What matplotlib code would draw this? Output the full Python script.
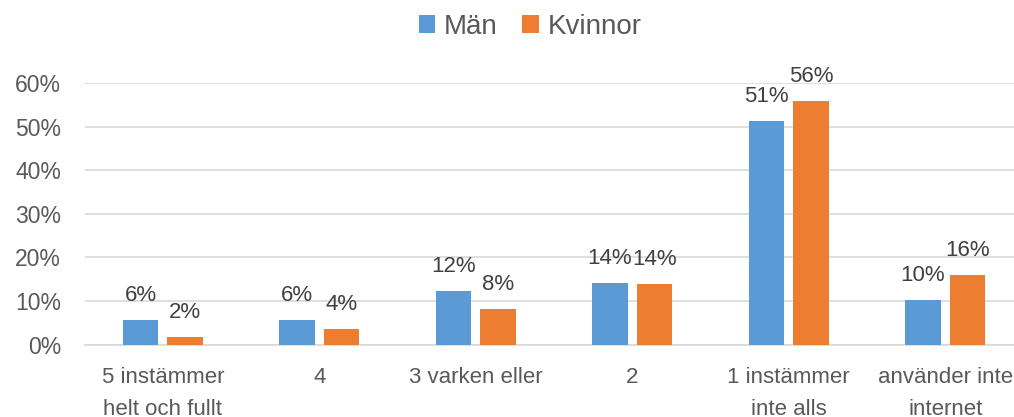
import matplotlib
matplotlib.use("Agg")
import matplotlib.pyplot as plt
import numpy as np

categories = ["5 instämmer\nhelt och fullt", "4", "3 varken eller", "2",
              "1 instämmer\ninte alls", "använder inte\ninternet"]
man = [0.057, 0.057, 0.123, 0.141, 0.513, 0.102]
kvinnor = [0.018, 0.035, 0.081, 0.140, 0.560, 0.159]
series_names = ["Män", "Kvinnor"]
yticks = [0, 0.1, 0.2, 0.3, 0.4, 0.5, 0.6]

plt.rcParams['font.family'] = ['Liberation Sans', 'DejaVu Sans']

blue = "#5B9BD5"
orange = "#ED7D31"
textcol = "#595959"

fig = plt.figure(figsize=(10.14, 4.17), dpi=100)
ax = fig.add_axes([84.5 / 1014, 72.5 / 417, 939 / 1014, 261.2 / 417])

x = np.arange(len(categories))
w = 0.224
off = 0.142
b1 = ax.bar(x - off, man, w, color=blue, label=series_names[0], zorder=3)
b2 = ax.bar(x + off, kvinnor, w, color=orange, label=series_names[1], zorder=3)

for bars in (b1, b2):
    for rect in bars:
        v = rect.get_height()
        ax.annotate(f"{round(v * 100):d}%",
                    (rect.get_x() + rect.get_width() / 2, v),
                    xytext=(0, 10), textcoords="offset points",
                    ha="center", va="bottom", fontsize=16, color="#404040")

ax.set_xlim(-0.5, len(categories) - 0.5)
ax.set_ylim(0, 0.6)
ax.set_yticks(yticks)
ax.set_yticklabels([f"{int(round(t * 100))}%" for t in yticks])
ax.set_xticks(x)
ax.set_xticklabels(categories, linespacing=1.7)
ax.tick_params(axis="y", length=0, pad=17, labelsize=16.5, labelcolor=textcol)
ax.tick_params(axis="x", length=0, pad=16, labelsize=16, labelcolor=textcol)
ax.yaxis.grid(True, color="#D9D9D9", linewidth=1.2, zorder=0)
for s in ["top", "right", "left"]:
    ax.spines[s].set_visible(False)
ax.spines["bottom"].set_color("#D9D9D9")
ax.spines["bottom"].set_linewidth(1.2)

fig.legend(loc="center", bbox_to_anchor=(530 / 1014, 1 - 27 / 417), ncol=2,
           frameon=False, fontsize=20, handlelength=0.6, handleheight=0.6,
           handletextpad=0.3, columnspacing=0.9, labelcolor=textcol)

fig.savefig("out.png", dpi=100)
